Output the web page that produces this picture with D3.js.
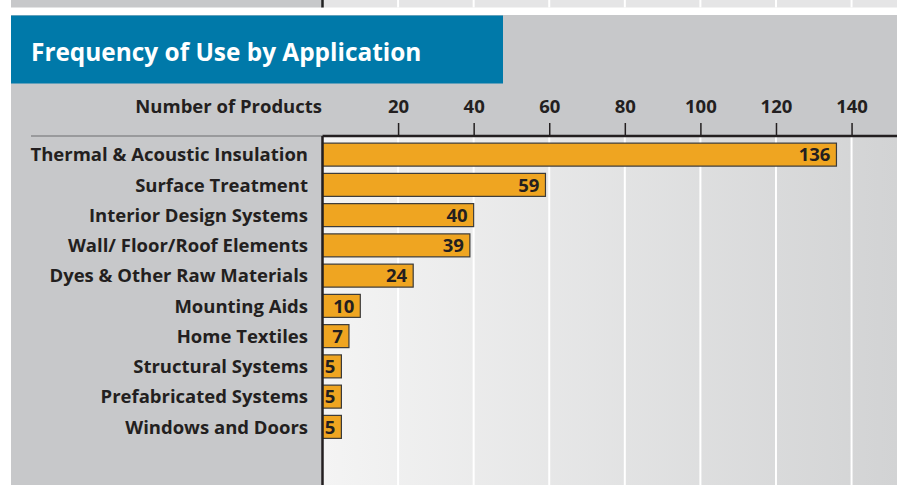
<!DOCTYPE html>
<html>
<head>
<meta charset="utf-8">
<script src="https://cdn.jsdelivr.net/npm/d3@7"></script>
<style>
  html, body { margin: 0; padding: 0; background: #fff; }
  svg { display: block; font-family: "Open Sans", "Noto Sans", sans-serif; font-weight: 700; }
</style>
</head>
<body>
<div id="chart"></div>
<script>
// data
var categories = ['Thermal & Acoustic Insulation', 'Surface Treatment', 'Interior Design Systems',
    'Wall/ Floor/Roof Elements', 'Dyes & Other Raw Materials', 'Mounting Aids', 'Home Textiles',
    'Structural Systems', 'Prefabricated Systems', 'Windows and Doors'];
var values = [136, 59, 40, 39, 24, 10, 7, 5, 5, 5];
var tickValues = [20, 40, 60, 80, 100, 120, 140];
var title = 'Frequency of Use by Application';
var axisTitle = 'Number of Products';

var W = 897, H = 485;
var x0 = 322.5, axisY = 136;
var fs = '18.5px';

var svg = d3.select('#chart').append('svg')
    .attr('width', W)
    .attr('height', H);

// gradient for the plot area
var defs = svg.append('defs');
var grad = defs.append('linearGradient').attr('id', 'plotBg')
    .attr('x1', '0').attr('x2', '1').attr('y1', '0').attr('y2', '0');
grad.append('stop').attr('offset', '0').attr('stop-color', '#f4f4f4');
grad.append('stop').attr('offset', '1').attr('stop-color', '#d2d3d4');

var x = d3.scaleLinear().domain([0, 152]).range([x0, x0 + 152 * 3.779]);
var y = d3.scaleBand().domain(categories).range([139.5, 442]).paddingInner(0.24).paddingOuter(0.12);

// bottom of the previous chart (top strip)
svg.append('rect').attr('x', 11).attr('y', 0).attr('width', x0 - 11).attr('height', 7.5).attr('fill', '#c7c8ca');
svg.append('rect').attr('x', x0).attr('y', 0).attr('width', W - x0).attr('height', 7.5).attr('fill', '#e5e5e6');
svg.append('g').selectAll('line').data(tickValues).enter().append('line')
    .attr('x1', function (d) { return x(d); })
    .attr('x2', function (d) { return x(d); })
    .attr('y1', 0).attr('y2', 7.5)
    .style('stroke', '#fff').style('stroke-width', 2);
svg.append('line').attr('x1', x0).attr('x2', x0).attr('y1', 0).attr('y2', 7.5)
    .style('stroke', '#222').style('stroke-width', 2.5);

// panel background
svg.append('rect').attr('x', 11).attr('y', 15).attr('width', W - 11).attr('height', H - 15).attr('fill', '#c7c8ca');
svg.append('rect').attr('x', x0).attr('y', axisY).attr('width', W - x0).attr('height', H - axisY).attr('fill', 'url(#plotBg)');

// title box
svg.append('rect').attr('x', 11).attr('y', 15.5).attr('width', 492).attr('height', 68).attr('fill', '#0079a9');
svg.append('text').attr('x', 31).attr('y', 61).text(title)
    .style('fill', '#fff').style('font-size', '24.4px');

// grid lines
svg.append('g').selectAll('line').data(tickValues).enter().append('line')
    .attr('x1', function (d) { return x(d); })
    .attr('x2', function (d) { return x(d); })
    .attr('y1', axisY).attr('y2', H)
    .style('stroke', '#fff').style('stroke-width', 2);

// top axis
var xAxis = svg.append('g')
    .attr('transform', 'translate(0,' + axisY + ')')
    .call(d3.axisTop(x).tickValues(tickValues).tickSize(13).tickPadding(10));
xAxis.select('.domain').remove();
xAxis.selectAll('line').style('stroke', '#231f20').style('stroke-width', 1.5);
xAxis.selectAll('text')
    .style('fill', '#231f20')
    .style('font-size', fs)
    .style('font-family', '"Open Sans", sans-serif')
    .style('font-weight', 700);

svg.append('line').attr('x1', 31).attr('x2', x0).attr('y1', axisY).attr('y2', axisY)
    .style('stroke', '#8a8b8d').style('stroke-width', 1.5);
svg.append('line').attr('x1', x0).attr('x2', W).attr('y1', axisY).attr('y2', axisY)
    .style('stroke', '#231f20').style('stroke-width', 2.5);

svg.append('text').attr('x', 322).attr('y', 113).attr('text-anchor', 'end').text(axisTitle)
    .style('fill', '#231f20').style('font-size', fs);

// bars
var bars = svg.append('g');
bars.selectAll('rect').data(values).enter().append('rect')
    .attr('x', x(0))
    .attr('y', function (d, i) { return y(categories[i]); })
    .attr('width', function (d) { return x(d) - x(0); })
    .attr('height', y.bandwidth())
    .attr('fill', '#efa521')
    .style('stroke', '#3a3a3a')
    .style('stroke-width', 1.2);

bars.selectAll('text').data(values).enter().append('text')
    .attr('x', function (d) { return x(d) - 6; })
    .attr('y', function (d, i) { return y(categories[i]) + y.bandwidth() / 2; })
    .attr('dy', '0.36em')
    .attr('text-anchor', 'end')
    .text(function (d) { return d; })
    .style('fill', '#231f20')
    .style('font-size', fs);

// vertical axis line
svg.append('line').attr('x1', x0).attr('x2', x0).attr('y1', axisY).attr('y2', H)
    .style('stroke', '#231f20').style('stroke-width', 2.5);

// category labels
svg.append('g').selectAll('text').data(categories).enter().append('text')
    .attr('x', 308)
    .attr('y', function (d) { return y(d) + y.bandwidth() / 2; })
    .attr('dy', '0.36em')
    .attr('text-anchor', 'end')
    .text(function (d) { return d; })
    .style('fill', '#231f20')
    .style('font-size', fs);
</script>
</body>
</html>
